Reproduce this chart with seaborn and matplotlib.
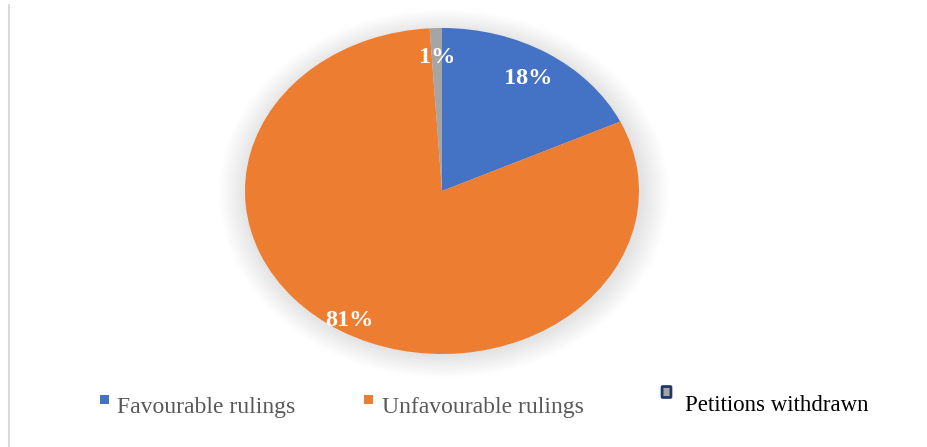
import matplotlib
matplotlib.use("Agg")
import matplotlib.pyplot as plt
import seaborn as sns
import numpy as np
from matplotlib.patches import Ellipse, Rectangle, FancyBboxPatch
from matplotlib.lines import Line2D

categories = ["Favourable rulings", "Unfavourable rulings", "Petitions withdrawn"]
values = [18, 81, 1]
colors = ["#4472C4", "#ED7D31", "#A5A5A5"]

sns.set_theme(style="white")
plt.rcParams['font.family'] = ['Liberation Serif', 'DejaVu Serif']

W, H = 928, 447
fig = plt.figure(figsize=(W / 100, H / 100), dpi=100)
fig.patch.set_facecolor("white")

# pie axes: ellipse x 245..639, y 28..354 (pixels from top)
left, right, top, bottom = 245, 639, 28, 354
ax = fig.add_axes([left / W, 1 - bottom / H, (right - left) / W, (bottom - top) / H])

# soft shadow
for k in range(14):
    r = 1.0 + 0.01 * (k + 1)
    ax.add_patch(Ellipse((0.01, -0.015), 2 * r, 2 * r * 0.99, facecolor="#000000",
                         alpha=0.006, edgecolor="none", zorder=0, clip_on=False))

wedges, texts, autotexts = ax.pie(
    values, colors=colors, startangle=90, counterclock=False,
    autopct=lambda p: f"{p:.0f}%", pctdistance=0.82,
    wedgeprops=dict(linewidth=0),
    textprops=dict(color="white", fontsize=17.5, fontweight="bold"),
    radius=1.0,
)
for w in wedges:
    w.set_zorder(2)
for t in autotexts:
    t.set_zorder(3)
# orange label sits farther out
x, y = autotexts[1].get_position()
autotexts[1].set_position((x * 0.92 / 0.82, y * 0.92 / 0.82))

ax.set_aspect("auto")
ax.set_xlim(-1, 1)
ax.set_ylim(-1, 1)
ax.axis("off")

# legend drawn manually
legend_items = [
    (100, 117, 395, "#595959"),
    (364, 382, 395, "#595959"),
    (663, 685, 387, "#000000"),
]
for i, (mx, tx, my, tc) in enumerate(legend_items):
    if i < 2:
        fig.patches.append(Rectangle((mx / W, 1 - (my + 9) / H), 9 / W, 9 / H,
                                     transform=fig.transFigure, facecolor=colors[i],
                                     edgecolor="none"))
        fig.text(tx / W, 1 - 413 / H, categories[i], fontsize=17, color=tc,
                 ha="left", va="baseline")
    else:
        fig.patches.append(FancyBboxPatch((mx / W, 1 - (my + 10) / H), 7 / W, 10 / H,
                                          boxstyle="round,pad=0.001",
                                          transform=fig.transFigure,
                                          facecolor=colors[i], edgecolor="#1F3864",
                                          linewidth=2))
        fig.text(tx / W, 1 - 411 / H, categories[i], fontsize=16.5, color=tc,
                 ha="left", va="baseline")

# left frame line
fig.add_artist(Line2D([9 / W, 9 / W], [0, 1 - 5 / H], transform=fig.transFigure,
                      color="#d9d9d9", linewidth=1.5))

fig.savefig("out.png", dpi=100, facecolor="white")
